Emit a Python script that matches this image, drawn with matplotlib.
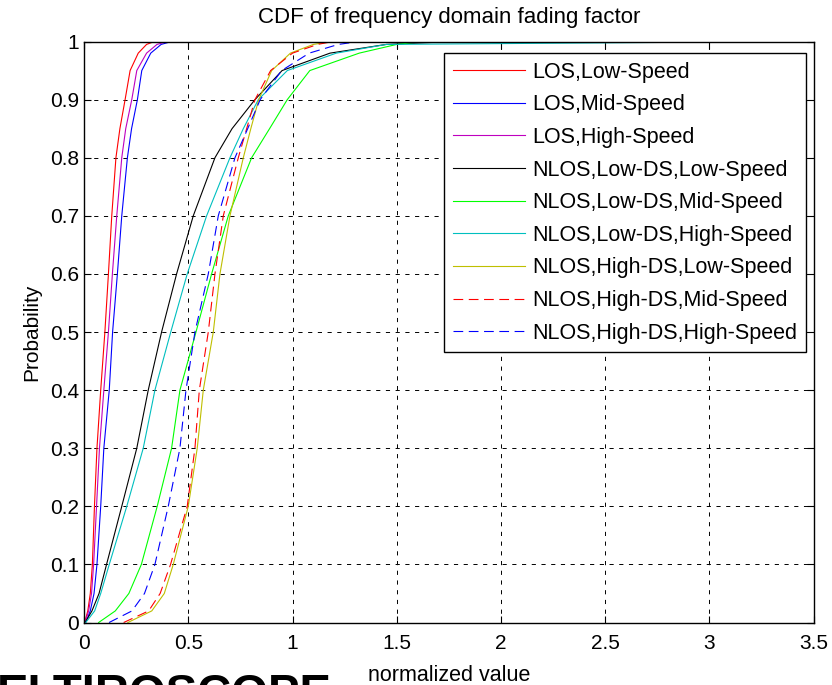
import matplotlib
matplotlib.use("Agg")
import matplotlib.pyplot as plt
import numpy as np

plt.rcParams['font.family'] = ['Liberation Sans', 'DejaVu Sans']
plt.rcParams['lines.scale_dashes'] = False

# probability levels and the x value (normalized) each curve reaches there
prob = [0, 0.02, 0.05, 0.1, 0.2, 0.3, 0.4, 0.5, 0.6, 0.7, 0.8, 0.85, 0.9, 0.95, 0.98, 0.995, 0.999, 1.0]

los_low = [0.003, 0.018, 0.03, 0.04, 0.05, 0.062, 0.08, 0.1, 0.117, 0.133, 0.153, 0.172, 0.197, 0.221, 0.26, 0.30, 0.33, 0.355]
los_mid = [0.008, 0.03, 0.048, 0.062, 0.08, 0.095, 0.121, 0.137, 0.16, 0.181, 0.208, 0.228, 0.256, 0.277, 0.32, 0.37, 0.41, 0.44]
los_high = [0.005, 0.022, 0.036, 0.046, 0.06, 0.074, 0.095, 0.117, 0.136, 0.157, 0.181, 0.2, 0.229, 0.253, 0.3, 0.35, 0.39, 0.42]
nlos_lds_low = [0.005, 0.038, 0.072, 0.108, 0.181, 0.253, 0.308, 0.372, 0.444, 0.524, 0.628, 0.71, 0.82, 0.95, 1.18, 1.45, 1.71, 2.06]
nlos_lds_mid = [0.07, 0.15, 0.215, 0.275, 0.351, 0.42, 0.46, 0.537, 0.612, 0.692, 0.804, 0.89, 0.975, 1.083, 1.32, 1.5, 1.6, 2.0]
nlos_lds_high = [0.008, 0.051, 0.08, 0.121, 0.205, 0.284, 0.34, 0.416, 0.495, 0.588, 0.70, 0.764, 0.836, 0.975, 1.21, 1.45, 3.0, 3.05]
nlos_hds_low = [0.21, 0.325, 0.385, 0.428, 0.50, 0.543, 0.572, 0.62, 0.652, 0.70, 0.764, 0.80, 0.838, 0.9, 0.99, 1.1, 1.17, 1.25]
nlos_hds_mid = [0.19, 0.31, 0.365, 0.415, 0.495, 0.532, 0.553, 0.596, 0.628, 0.668, 0.74, 0.78, 0.82, 0.895, 1.0, 1.12, 1.18, 1.25]
nlos_hds_high = [0.12, 0.23, 0.29, 0.34, 0.404, 0.46, 0.489, 0.532, 0.596, 0.644, 0.724, 0.785, 0.845, 0.948, 1.08, 1.22, 1.3, 1.5]

labels = ["LOS,Low-Speed", "LOS,Mid-Speed", "LOS,High-Speed",
          "NLOS,Low-DS,Low-Speed", "NLOS,Low-DS,Mid-Speed", "NLOS,Low-DS,High-Speed",
          "NLOS,High-DS,Low-Speed", "NLOS,High-DS,Mid-Speed", "NLOS,High-DS,High-Speed"]
series = [los_low, los_mid, los_high, nlos_lds_low, nlos_lds_mid, nlos_lds_high,
          nlos_hds_low, nlos_hds_mid, nlos_hds_high]
colors = ['r', 'b', 'm', 'k', (0, 1, 0), 'c', 'y', 'r', 'b']
dashed = [False] * 7 + [True, True]

xticks = [0, 0.5, 1, 1.5, 2, 2.5, 3, 3.5]
xticklabels = ['0', '0.5', '1', '1.5', '2', '2.5', '3', '3.5']
yticks = [0, 0.1, 0.2, 0.3, 0.4, 0.5, 0.6, 0.7, 0.8, 0.9, 1]
yticklabels = ['0', '0.1', '0.2', '0.3', '0.4', '0.5', '0.6', '0.7', '0.8', '0.9', '1']

fig = plt.figure(figsize=(8.32, 6.85), dpi=100)
ax = fig.add_axes([0.101, 0.0912, 0.877, 0.8482])

for x, lab, c, d in zip(series, labels, colors, dashed):
    if d:
        ax.plot(x, prob, color=c, lw=0.8, dashes=(7, 4), label=lab)
    else:
        ax.plot(x, prob, color=c, lw=0.8, label=lab)

ax.set_xlim(0, 3.5)
ax.set_ylim(0, 1)
ax.set_xticks(xticks)
ax.set_xticklabels(xticklabels)
ax.set_yticks(yticks)
ax.set_yticklabels(yticklabels)
ax.tick_params(direction='in', length=5, width=0.8, labelsize=15, top=True, right=True)
ax.tick_params(axis='x', pad=8.5)
ax.tick_params(axis='y', pad=3.6)
ax.grid(True, color='black', linestyle=(0, (3, 4)), linewidth=0.7)
for s in ax.spines.values():
    s.set_linewidth(1.0)

ax.set_title("CDF of frequency domain fading factor", fontsize=16, pad=13)
ax.set_xlabel("normalized value", fontsize=15.5, labelpad=8.5)
ax.set_ylabel("Probability", fontsize=15, labelpad=6)

leg = ax.legend(loc='upper right', bbox_to_anchor=(0.989, 0.980), fontsize=15.5,
                frameon=True, fancybox=False, framealpha=1, edgecolor='black',
                handlelength=3.35, handletextpad=0.33, labelspacing=0.54,
                borderpad=0.4, borderaxespad=0)
leg.get_frame().set_linewidth(1.0)

# clipped watermark at the bottom edge
fig.text(-0.004, 0.017, "ELTIROSCOPE", fontsize=34, fontweight='bold', va='top', ha='left')

fig.savefig("out.png", dpi=100)
